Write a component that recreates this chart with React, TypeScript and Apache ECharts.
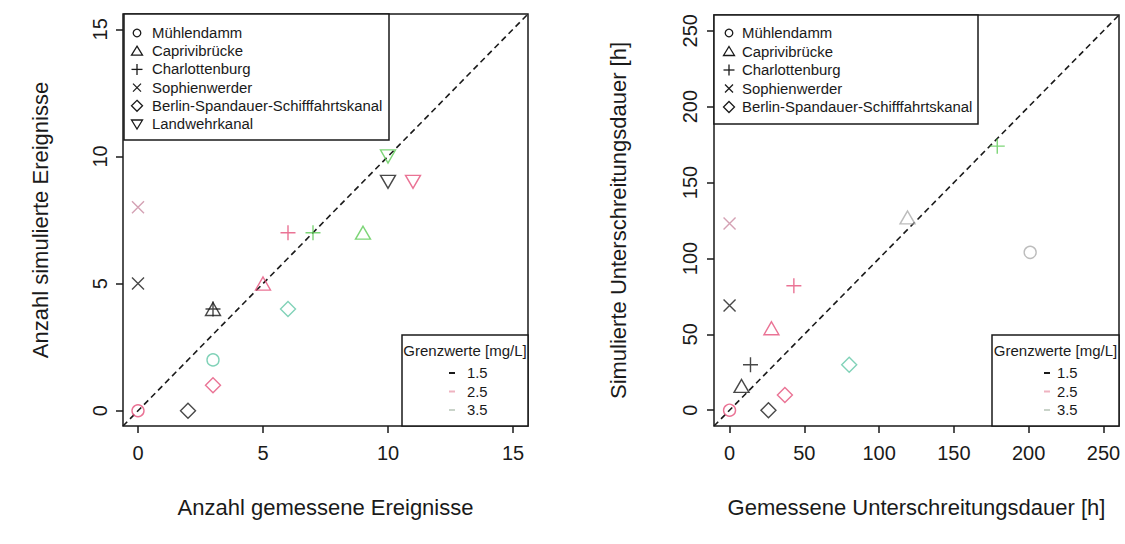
import React, { useEffect, useRef } from 'react';
import * as echarts from 'echarts';

const FONT = 'Liberation Sans, Arial, Helvetica, sans-serif';

const STATIONS = [
  'Mühlendamm',
  'Caprivibrücke',
  'Charlottenburg',
  'Sophienwerder',
  'Berlin-Spandauer-Schifffahrtskanal',
  'Landwehrkanal',
];
const GRENZWERTE = ['1.5', '2.5', '3.5'];

// [measured, simulated, tone]
const leftMuehlendamm = [[0, 0, 'p'], [3, 2, 't']];
const leftCaprivi = [[3, 4, 'k'], [5, 5, 'p'], [9, 7, 'g']];
const leftCharlottenburg = [[3, 4, 'k'], [6, 7, 'p'], [7, 7, 'g']];
const leftSophienwerder = [[0, 5, 'k'], [0, 8, 'm']];
const leftBSK = [[2, 0, 'k'], [3, 1, 'p'], [6, 4, 't']];
const leftLandwehr = [[10, 9, 'k'], [11, 9, 'p'], [10, 10, 'g']];

const rightMuehlendamm = [[0, 0, 'p'], [201, 104, 's']];
const rightCaprivi = [[8, 16, 'k'], [28, 54, 'p'], [119, 127, 's']];
const rightCharlottenburg = [[14, 30, 'k'], [43, 82, 'p'], [179, 174, 'g']];
const rightSophienwerder = [[0, 69, 'k'], [0, 123, 'm']];
const rightBSK = [[26, 0, 'k'], [37, 10, 'p'], [80, 30, 't']];

const leftTicks = [0, 5, 10, 15];
const rightTicks = [0, 50, 100, 150, 200, 250];

const TONE: Record<string, string> = {
  k: '#1a1a1a',
  p: '#E5507A',
  m: '#C98AA0',
  g: '#5DCB55',
  t: '#62C7A6',
  s: '#ABABAB',
};
const LEGEND_DASH = ['#1a1a1a', '#EFB3C0', '#C9D3C9'];

const SYMBOLS = [
  { symbol: 'circle', size: 12 },
  { symbol: 'path://M5 0 L10 8.66 L0 8.66 Z', size: [15, 13] },
  { symbol: 'path://M5 0 L5 10 M0 5 L10 5', size: 15 },
  { symbol: 'path://M0 0 L10 10 M10 0 L0 10', size: 12 },
  { symbol: 'path://M5 0 L10 5 L5 10 L0 5 Z', size: 15 },
  { symbol: 'path://M0 0 L10 0 L5 8.66 Z', size: [15, 13] },
];

function legendSymbol(idx: number, cx: number, cy: number) {
  const st = { fill: 'none', stroke: '#1a1a1a', lineWidth: 1.3 };
  const z = 101;
  switch (idx) {
    case 0:
      return [{ type: 'circle', z, shape: { cx, cy, r: 3.8 }, style: st }];
    case 1:
      return [{ type: 'polygon', z, shape: { points: [[cx, cy - 5], [cx + 5.5, cy + 4], [cx - 5.5, cy + 4]] }, style: st }];
    case 2:
      return [
        { type: 'line', z, shape: { x1: cx - 5.5, y1: cy, x2: cx + 5.5, y2: cy }, style: st },
        { type: 'line', z, shape: { x1: cx, y1: cy - 5.5, x2: cx, y2: cy + 5.5 }, style: st },
      ];
    case 3:
      return [
        { type: 'line', z, shape: { x1: cx - 4, y1: cy - 4, x2: cx + 4, y2: cy + 4 }, style: st },
        { type: 'line', z, shape: { x1: cx + 4, y1: cy - 4, x2: cx - 4, y2: cy + 4 }, style: st },
      ];
    case 4:
      return [{ type: 'polygon', z, shape: { points: [[cx, cy - 5.5], [cx + 5.5, cy], [cx, cy + 5.5], [cx - 5.5, cy]] }, style: st }];
    default:
      return [{ type: 'polygon', z, shape: { points: [[cx - 5.5, cy - 4], [cx + 5.5, cy - 4], [cx, cy + 5]] }, style: st }];
  }
}

function stationLegend(x0: number, y0: number, w: number, h: number, n: number, symX: number, textX: number, rowY0: number, rowGap: number) {
  const els: any[] = [
    { type: 'rect', z: 100, shape: { x: x0, y: y0, width: w, height: h }, style: { fill: '#fff', stroke: '#1a1a1a', lineWidth: 1.5 } },
  ];
  for (let i = 0; i < n; i++) {
    const cy = rowY0 + i * rowGap;
    els.push(...legendSymbol(i, symX, cy));
    els.push({
      type: 'text', z: 101, x: textX, y: cy,
      style: { text: STATIONS[i], fill: '#1a1a1a', font: `14.9px ${FONT}`, textVerticalAlign: 'middle', textAlign: 'left' },
    });
  }
  return els;
}

function grenzLegend(x0: number, y0: number, w: number, h: number, dashX: number, textX: number) {
  const els: any[] = [
    { type: 'rect', z: 100, shape: { x: x0, y: y0, width: w, height: h }, style: { fill: '#fff', stroke: '#1a1a1a', lineWidth: 1.5 } },
    {
      type: 'text', z: 101, x: x0 + w / 2, y: y0 + 15,
      style: { text: 'Grenzwerte [mg/L]', fill: '#1a1a1a', font: `15px ${FONT}`, textAlign: 'center', textVerticalAlign: 'middle' },
    },
  ];
  GRENZWERTE.forEach((g, i) => {
    const cy = y0 + 38 + i * 18.5;
    els.push({ type: 'line', z: 101, shape: { x1: dashX - 3, y1: cy, x2: dashX + 3, y2: cy }, style: { stroke: LEGEND_DASH[i], lineWidth: 2 } });
    els.push({
      type: 'text', z: 101, x: textX, y: cy,
      style: { text: g, fill: '#1a1a1a', font: `14.8px ${FONT}`, textAlign: 'left', textVerticalAlign: 'middle' },
    });
  });
  return els;
}

function makeSeries(groups: any[][], axisIdx: number) {
  return groups.map((arr, i) => ({
    type: 'scatter',
    name: STATIONS[i],
    xAxisIndex: axisIdx,
    yAxisIndex: axisIdx,
    symbol: SYMBOLS[i].symbol,
    symbolSize: SYMBOLS[i].size,
    z: 3,
    itemStyle: { color: 'rgba(0,0,0,0)', borderWidth: 1.4 },
    emphasis: { disabled: true },
    data: arr.map(([x, y, t]) => ({ value: [x, y], itemStyle: { borderColor: TONE[t as string] } })),
  }));
}

function xAxisCfg(grid: number, min: number, max: number, ticks: number[], name: string) {
  return {
    gridIndex: grid, type: 'value', min, max, position: 'bottom',
    axisLine: { show: false, onZero: false },
    axisTick: { show: true, inside: false, length: 7, customValues: ticks, lineStyle: { color: '#1a1a1a', width: 1.5 } },
    axisLabel: { customValues: ticks, fontSize: 20, color: '#1a1a1a', margin: 17, fontFamily: FONT },
    splitLine: { show: false },
    name, nameLocation: 'middle', nameGap: 70,
    nameTextStyle: { fontSize: 22, color: '#1a1a1a', fontFamily: FONT },
  };
}

function yAxisCfg(grid: number, min: number, max: number, ticks: number[], name: string, gap: number, lblMargin: number) {
  return {
    gridIndex: grid, type: 'value', min, max, position: 'left',
    axisLine: { show: false, onZero: false },
    axisTick: { show: true, inside: false, length: 7, customValues: ticks, lineStyle: { color: '#1a1a1a', width: 1.5 } },
    axisLabel: { customValues: ticks, fontSize: 20, color: '#1a1a1a', margin: lblMargin, rotate: 90, fontFamily: FONT },
    splitLine: { show: false },
    name, nameLocation: 'middle', nameGap: gap, nameRotate: 90,
    nameTextStyle: { fontSize: 22, color: '#1a1a1a', fontFamily: FONT },
  };
}

export default function App() {
  const ref = useRef<HTMLDivElement>(null);
  useEffect(() => {
    if (!ref.current) return;
    const chart = echarts.init(ref.current, undefined, { renderer: 'svg' });
    const leftGroups = [leftMuehlendamm, leftCaprivi, leftCharlottenburg, leftSophienwerder, leftBSK, leftLandwehr];
    const rightGroups = [rightMuehlendamm, rightCaprivi, rightCharlottenburg, rightSophienwerder, rightBSK];
    const gridStyle = { show: true, borderColor: '#1a1a1a', borderWidth: 1.5, backgroundColor: 'transparent' };
    chart.setOption({
      animation: false,
      backgroundColor: '#fff',
      textStyle: { fontFamily: FONT },
      grid: [
        { left: 123, top: 14, width: 405, height: 412, ...gridStyle },
        { left: 714, top: 15, width: 405, height: 411, ...gridStyle },
      ],
      xAxis: [
        xAxisCfg(0, -0.6, 15.6, leftTicks, 'Anzahl gemessene Ereignisse'),
        xAxisCfg(1, -10.4, 260.4, rightTicks, 'Gemessene Unterschreitungsdauer [h]'),
      ],
      yAxis: [
        yAxisCfg(0, -0.6, 15.6, leftTicks, 'Anzahl simulierte Ereignisse', 72, 13),
        yAxisCfg(1, -10.4, 260.4, rightTicks, 'Simulierte Unterschreitungsdauer [h]', 85, 14),
      ],
      series: [
        {
          type: 'line', xAxisIndex: 0, yAxisIndex: 0, z: 2, symbol: 'none', clip: true,
          lineStyle: { color: '#1a1a1a', width: 1.6, type: [6, 4] },
          data: [[-0.6, -0.6], [15.6, 15.6]],
        },
        {
          type: 'line', xAxisIndex: 1, yAxisIndex: 1, z: 2, symbol: 'none', clip: true,
          lineStyle: { color: '#1a1a1a', width: 1.6, type: [6, 4] },
          data: [[-10.4, -10.4], [260.4, 260.4]],
        },
        ...makeSeries(leftGroups, 0),
        ...makeSeries(rightGroups, 1),
      ],
      graphic: [
        ...stationLegend(124, 14, 265, 126, 6, 137, 152, 33, 18.2),
        ...stationLegend(714, 15, 264, 109, 5, 729, 742, 33, 18.5),
        ...grenzLegend(402, 335, 126, 91, 452, 467),
        ...grenzLegend(992, 335, 127, 91, 1047, 1057),
      ],
    });
    return () => chart.dispose();
  }, []);
  return <div ref={ref} style={{ position: 'fixed', left: 0, top: 0, width: 1125, height: 544 }} />;
}
